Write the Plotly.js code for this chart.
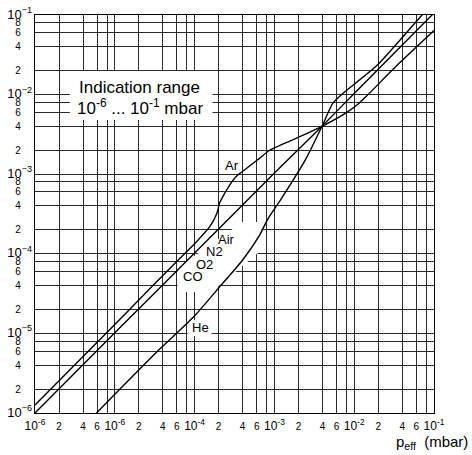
<!DOCTYPE html>
<html><head><meta charset="utf-8">
<script src="https://cdn.plot.ly/plotly-3.0.1.min.js"></script>
<style>body{margin:0;background:#fff}#chart{width:472px;height:455px}</style>
</head><body><div id="chart"></div>
<script>
// Gas curves: effective pressure (x, mbar) vs indicated pressure (y, mbar)
const airX = [1e-6, 1e-5, 1e-4, 1e-3, 3.95e-3, 1e-2, 1e-1];
const airY = [1.0e-6, 1.02e-5, 1.02e-4, 1.035e-3, 4.0e-3, 1.035e-2, 1.06e-1];

const arX = [1e-6, 1e-5, 3e-5, 6.5e-5, 1.05e-4, 1.55e-4, 1.9e-4, 2.05e-4, 2.25e-4, 2.75e-4, 3.3e-4, 4.5e-4, 6.5e-4, 8.7e-4, 1.87e-3, 3.95e-3, 7.9e-3, 1.15e-2, 1.4e-2, 3.65e-2, 1e-1];
const arY = [1.26e-6, 1.29e-5, 4.0e-5, 8.7e-5, 1.41e-4, 2.19e-4, 3.2e-4, 4.3e-4, 5.2e-4, 7.3e-4, 9.3e-4, 1.19e-3, 1.58e-3, 2.0e-3, 2.82e-3, 4.0e-3, 5.9e-3, 7.8e-3, 9.4e-3, 2.47e-2, 6.4e-2];

const heX = [5.9e-6, 3.63e-5, 9.55e-5, 2.04e-4, 3.98e-4, 6.5e-4, 8.3e-4, 1.2e-3, 1.78e-3, 2.5e-3, 3.95e-3, 5.4e-3, 7.1e-3, 1.95e-2, 7.1e-2, 1e-1];
const heY = [1e-6, 6.3e-6, 1.58e-5, 3.8e-5, 8.3e-5, 1.7e-4, 2.75e-4, 4.8e-4, 8.9e-4, 1.58e-3, 4.0e-3, 7.8e-3, 1.02e-2, 2.35e-2, 0.1, 0.14];

// Tick positions and labels
const xTickVals = [1e-6,2e-6,4e-6,6e-6, 1e-5,2e-5,4e-5,6e-5, 1e-4,2e-4,4e-4,6e-4, 1e-3,2e-3,4e-3,6e-3, 1e-2,2e-2,4e-2,6e-2, 1e-1];
const xTickText = ['10<sup>-6</sup>','2','4','6', '10<sup>-6</sup>','2','4','6', '10<sup>-4</sup>','2','4','6', '10<sup>-3</sup>','2','4','6', '10<sup>-2</sup>','2','4','6', '10<sup>-1</sup>'];
const xMinorGrid = [8e-6, 8e-5, 8e-4, 8e-3, 8e-2];
const yTickVals = [1e-6,2e-6,4e-6,6e-6,8e-6, 1e-5,2e-5,4e-5,6e-5,8e-5, 1e-4,2e-4,4e-4,6e-4,8e-4, 1e-3,2e-3,4e-3,6e-3,8e-3, 1e-2,2e-2,4e-2,6e-2,8e-2, 1e-1];
const yTickText = ['10<sup>\u22126</sup>','2','4','6','8', '10<sup>\u22125</sup>','2','4','6','8', '10<sup>\u22124</sup>','2','4','6','8', '10<sup>\u22123</sup>','2','4','6','8', '10<sup>\u22122</sup>','2','4','6','8', '10<sup>\u22121</sup>'];

const FONT = 'Liberation Sans, Arial, sans-serif';
function fmtX(t){ return t.indexOf('10')===0 ? '<span style="font-size:12px">'+t+'</span>' : t; }
function fmtY(t){ return t.indexOf('10')===0 ? '<span style="font-size:13px">'+t+'</span>' : t+'\u2007\u2007'; }

const lineStyle = {color:'#000', width:1.4, shape:'spline', smoothing:0.6};
const traces = [
  {x: airX, y: airY, mode:'lines', line: lineStyle, name:'Air', hoverinfo:'skip'},
  {x: arX, y: arY, mode:'lines', line: lineStyle, name:'Ar', hoverinfo:'skip'},
  {x: heX, y: heY, mode:'lines', line: lineStyle, name:'He', hoverinfo:'skip'}
];

// white label backgrounds (decoration): above gridlines, below curves
const white = {xref:'x', yref:'y', fillcolor:'#fff', line:{width:0}, layer:'between'};
const shapes = [
  Object.assign({type:'rect', x0:0.00000274, x1:0.000168, y0:0.0048, y1:0.0198}, white),
  Object.assign({type:'rect', x0:0.000224, x1:0.000387, y0:0.001035, y1:0.00164}, white),
  Object.assign({type:'rect', x0:0.0000818, x1:0.000163, y0:0.00000927, y1:0.0000147}, white),
  Object.assign({type:'path', path:'M0.0000613,0.0000331 L0.0000613,0.0000664 L0.000398,0.000251 L0.000688,0.000251 L0.000688,0.0001117 L0.000163,0.0000331 Z'}, white)
];

const dref = {xref:'x domain', yref:'y domain'};
function lab(text, x, y, size){
  return Object.assign({text:text, x:x, y:y, showarrow:false, xanchor:'center', yanchor:'middle',
    font:{family:FONT, size:size||13, color:'#000'}}, dref);
}
const annotations = [
  lab('Indication range', 0.263, 0.817, 17),
  lab('10<sup>-6</sup> ... 10<sup>-1</sup> mbar', 0.263, 0.769, 17),
  lab('Ar', 0.494, 0.623),
  lab('Air', 0.479, 0.435),
  lab('N2', 0.451, 0.405),
  lab('O2', 0.424, 0.374),
  lab('CO', 0.396, 0.344),
  lab('He', 0.414, 0.214),
  {text:'p<sub>eff</sub>\u00a0\u00a0(mbar)', xref:'paper', yref:'paper', x:1.090, y:-0.073, xanchor:'right', yanchor:'middle',
   showarrow:false, font:{family:FONT, size:15, color:'#000'}}
];

const axisCommon = {type:'log', range:[-6,-1], showgrid:true, gridcolor:'#2a2a2a', gridwidth:1,
  showline:true, mirror:true, linecolor:'#000', linewidth:1, ticks:'', tickmode:'array',
  tickfont:{family:FONT, size:10, color:'#000'}, fixedrange:true};

const layout = {
  width:472, height:455,
  margin:{l:35, r:38, t:15, b:42},
  paper_bgcolor:'#fff', plot_bgcolor:'#fff',
  showlegend:false,
  font:{family:FONT, color:'#000'},
  xaxis: Object.assign({}, axisCommon, {tickvals:xTickVals, ticktext:xTickText.map(fmtX), tickangle:0,
    ticklabelstandoff:4,
    minor:{tickmode:'array', tickvals:xMinorGrid, showgrid:true, gridcolor:'#2a2a2a', gridwidth:1, ticks:''}}),
  yaxis: Object.assign({}, axisCommon, {tickvals:yTickVals, ticktext:yTickText.map(fmtY)}),
  shapes: shapes,
  annotations: annotations
};
Plotly.newPlot('chart', traces, layout, {displayModeBar:false, staticPlot:true});
</script></body></html>
